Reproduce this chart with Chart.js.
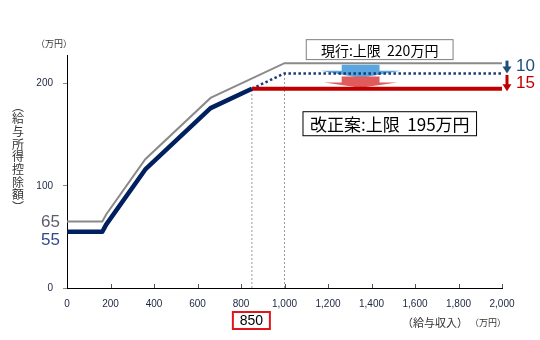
<!DOCTYPE html>
<html>
<head>
<meta charset="utf-8">
<script src="https://cdn.jsdelivr.net/npm/chart.js@4/dist/chart.umd.min.js"></script>
<style>
  html, body { margin: 0; padding: 0; background: #fff; }
  #wrap { width: 540px; height: 340px; position: relative; }
</style>
</head>
<body>
<div id="wrap"><canvas id="c"></canvas></div>
<script>
// 給与収入（万円）と給与所得控除額（万円）
const incomeCurrent    = [0, 162.5, 180, 360, 660, 1000, 2000];
const deductionCurrent = [65, 65, 72, 126, 186, 220, 220];

const incomeReform     = [0, 162.5, 180, 360, 660, 850];
const deductionReform  = [55, 55, 62, 116, 176, 195];

const incomeCap        = [850, 2000];
const deductionCap     = [195, 195];

const incomeShifted    = [850, 1000, 2000];
const deductionShifted = [195, 210, 210];

const guideIncome      = [850, 1000];
const guideTop         = [195, 210];

const yTickValues      = [0, 100, 200];
const xTickStep        = 200;

const pts = (xs, ys) => xs.map((v, i) => ({ x: v, y: ys[i] }));

const CJK = "'Noto Sans CJK JP', 'Noto Sans', sans-serif";
const LAT = "'Liberation Sans', Arial, sans-serif";

function blockArrow(ctx, x, y, cx, top, shoulder, tip, bodyHalf, wingHalf, color) {
  const px = v => x.getPixelForValue(v);
  const py = v => y.getPixelForValue(v);
  ctx.save();
  ctx.fillStyle = color;
  ctx.beginPath();
  ctx.moveTo(px(cx - bodyHalf), py(top));
  ctx.lineTo(px(cx + bodyHalf), py(top));
  ctx.lineTo(px(cx + bodyHalf), py(shoulder));
  ctx.lineTo(px(cx + wingHalf), py(shoulder));
  ctx.lineTo(px(cx), py(tip));
  ctx.lineTo(px(cx - wingHalf), py(shoulder));
  ctx.lineTo(px(cx - bodyHalf), py(shoulder));
  ctx.closePath();
  ctx.fill();
  ctx.restore();
}

function downArrow(ctx, px, yTop, yTip, color) {
  ctx.save();
  ctx.fillStyle = color;
  const head = 7;
  ctx.fillRect(px - 1.5, yTop, 3, yTip - yTop - head + 1);
  ctx.beginPath();
  ctx.moveTo(px - 4.5, yTip - head);
  ctx.lineTo(px + 4.5, yTip - head);
  ctx.lineTo(px, yTip);
  ctx.closePath();
  ctx.fill();
  ctx.restore();
}

function textBox(ctx, x0, y0, x1, y1, text, font, border, lw) {
  ctx.save();
  ctx.fillStyle = '#fff';
  ctx.fillRect(x0, y0, x1 - x0, y1 - y0);
  ctx.strokeStyle = border;
  ctx.lineWidth = lw;
  ctx.strokeRect(x0, y0, x1 - x0, y1 - y0);
  ctx.fillStyle = '#000';
  ctx.font = font;
  ctx.textAlign = 'center';
  ctx.textBaseline = 'middle';
  ctx.fillText(text, (x0 + x1) / 2, (y0 + y1) / 2 + 1);
  ctx.restore();
}

const notes = {
  id: 'notes',
  beforeDatasetsDraw(chart) {
    const { ctx, scales: { x, y } } = chart;
    blockArrow(ctx, x, y, 1350, 218.5, 212.5, 205.5, 87, 184, '#5aa7e0');
    blockArrow(ctx, x, y, 1350, 207, 201, 196, 87, 168, '#e05b5b');
  },
  afterDraw(chart) {
    const { ctx, chartArea: a, scales: { x, y } } = chart;
    const px = v => x.getPixelForValue(v);
    const py = v => y.getPixelForValue(v);

    // inner tick marks on the income axis
    ctx.save();
    ctx.strokeStyle = '#555';
    ctx.lineWidth = 1;
    x.ticks.forEach(t => {
      if (t.value === 0) return;
      const xx = Math.round(px(t.value)) + 0.5;
      ctx.beginPath();
      ctx.moveTo(xx, a.bottom);
      ctx.lineTo(xx, a.bottom - 4);
      ctx.stroke();
    });
    ctx.restore();

    // boxes with cap values
    textBox(ctx, px(1100), py(243), px(1775), py(223.5),
            '現行:上限  220万円', '14px ' + CJK, '#7f7f7f', 1);
    textBox(ctx, px(1085), py(172.5), px(1883), py(149),
            '改正案:上限  195万円', '17px ' + CJK, '#000', 1);

    // drop amounts on the right
    const ax = a.right + 5;
    downArrow(ctx, ax, py(222.5), py(210), '#1f4e79');
    downArrow(ctx, ax, py(208.5), py(192.5), '#c00000');
    ctx.save();
    ctx.font = '17px ' + LAT;
    ctx.textAlign = 'left';
    ctx.textBaseline = 'middle';
    ctx.fillStyle = '#1f4e79';
    ctx.fillText('10', ax + 9, py(216.5));
    ctx.fillStyle = '#c00000';
    ctx.fillText('15', ax + 9, py(200.5));
    ctx.restore();

    // floor values at the left
    ctx.save();
    ctx.font = '17px ' + LAT;
    ctx.textAlign = 'right';
    ctx.textBaseline = 'middle';
    ctx.fillStyle = '#5b5f6b';
    ctx.fillText('65', a.left - 7, py(65) + 1);
    ctx.fillStyle = '#2e4b8c';
    ctx.fillText('55', a.left - 7, py(55) + 9);
    ctx.restore();

    // unit labels
    ctx.save();
    ctx.fillStyle = '#333';
    ctx.textBaseline = 'middle';
    ctx.textAlign = 'left';
    ctx.font = '9px ' + CJK;
    ctx.fillText('（万円）', 36, 44);
    ctx.font = '11px ' + CJK;
    ctx.fillText('（給与収入）', 402, 323);
    ctx.font = '9px ' + CJK;
    ctx.fillText('（万円）', 470, 323);

    // vertical axis title, set top to bottom
    ctx.font = '12px ' + CJK;
    ctx.textAlign = 'center';
    const title = Array.from('︵給与所得控除額︶');
    title.forEach((ch, i) => {
      ctx.fillText(ch, 18, 106 + i * 12.7);
    });
    ctx.restore();

    // highlighted income level
    const cx = px(guideIncome[0]);
    ctx.save();
    ctx.strokeStyle = '#e0161b';
    ctx.lineWidth = 2;
    ctx.strokeRect(cx - 19, 312, 37, 17);
    ctx.fillStyle = '#000';
    ctx.font = '14px ' + LAT;
    ctx.textAlign = 'center';
    ctx.textBaseline = 'middle';
    ctx.fillText(String(guideIncome[0]), cx - 0.5, 321);
    ctx.restore();
  }
};

new Chart(document.getElementById('c'), {
  type: 'line',
  data: {
    datasets: [
      {
        data: pts(incomeReform, deductionReform),
        borderColor: '#002060', borderWidth: 4.5,
        borderJoinStyle: 'round', pointRadius: 0, order: 1
      },
      {
        data: pts(incomeCap, deductionCap),
        borderColor: '#c00000', borderWidth: 4,
        pointRadius: 0, order: 2
      },
      {
        data: pts(incomeShifted, deductionShifted),
        borderColor: '#1a3a78', borderWidth: 2.5, borderDash: [2.5, 2.5],
        pointRadius: 0, order: 3
      },
      {
        data: pts(incomeCurrent, deductionCurrent),
        borderColor: '#8a8a8a', borderWidth: 2,
        pointRadius: 0, order: 4
      },
      {
        data: pts([guideIncome[0], guideIncome[0]], [0, guideTop[0]]),
        borderColor: '#9a9a9a', borderWidth: 1, borderDash: [2, 2],
        pointRadius: 0, order: 5
      },
      {
        data: pts([guideIncome[1], guideIncome[1]], [0, guideTop[1]]),
        borderColor: '#9a9a9a', borderWidth: 1, borderDash: [2, 2],
        pointRadius: 0, order: 6
      }
    ]
  },
  options: {
    responsive: true,
    maintainAspectRatio: false,
    animation: false,
    layout: { padding: { top: 55, right: 38, left: 0, bottom: 0 } },
    plugins: { legend: { display: false }, tooltip: { enabled: false } },
    elements: { line: { tension: 0 } },
    scales: {
      x: {
        type: 'linear', min: 0, max: 2000,
        grid: { display: true, drawOnChartArea: false, drawTicks: false },
        border: { color: '#000', width: 1 },
        ticks: {
          stepSize: xTickStep, padding: 10, color: '#1c2540',
          font: { family: LAT, size: 10 },
          callback: v => v.toLocaleString('en-US')
        },
        afterFit: s => { s.height = 52; s.paddingLeft = 0; s.paddingRight = 0; }
      },
      y: {
        type: 'linear', min: 0, max: 228,
        afterBuildTicks: s => { s.ticks = yTickValues.map(v => ({ value: v })); },
        grid: { drawOnChartArea: false, drawTicks: true, tickLength: 4, color: '#888' },
        border: { color: '#000', width: 1 },
        ticks: {
          padding: 10, color: '#1c2540',
          font: { family: LAT, size: 10 },
          callback: v => String(v)
        },
        afterFit: s => { s.width = 67; }
      }
    }
  },
  plugins: [notes]
});
</script>
</body>
</html>
